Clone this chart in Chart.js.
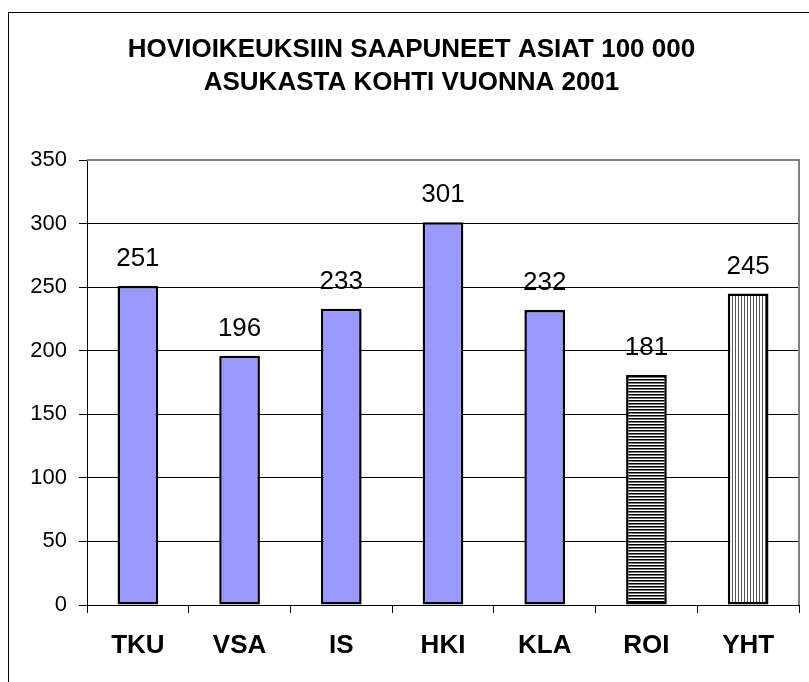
<!DOCTYPE html>
<html>
<head>
<meta charset="utf-8">
<script src="https://cdn.jsdelivr.net/npm/chart.js@4/dist/chart.umd.min.js"></script>
<style>
  html, body { margin: 0; padding: 0; background: #fff; overflow: hidden; }
  #frame {
    position: absolute; left: 8px; top: 12px;
    width: 900px; height: 800px;
    border-left: 1px solid #000; border-top: 1px solid #000;
  }
  #myChart { position: absolute; left: 9px; top: 13px; }
</style>
</head>
<body>
<div id="frame"></div>
<canvas id="myChart" width="804" height="669"></canvas>
<script>
// chart data
const categories = ['TKU', 'VSA', 'IS', 'HKI', 'KLA', 'ROI', 'YHT'];
const values = [251, 196, 233, 301, 232, 181, 245];
const yMin = 0;
const yMax = 350;
const yStep = 50;
const titleLines = ['HOVIOIKEUKSIIN SAAPUNEET ASIAT 100 000', 'ASUKASTA KOHTI VUONNA 2001'];

const FONT = "'Liberation Sans', Arial, sans-serif";

// striped fills for ROI (horizontal) and YHT (vertical)
function makeStripes(horizontal) {
  const tile = document.createElement('canvas');
  tile.width = 3;
  tile.height = 3;
  const t = tile.getContext('2d');
  t.fillStyle = '#fff';
  t.fillRect(0, 0, 3, 3);
  if (horizontal) {
    t.fillStyle = '#000';
    t.fillRect(0, 0, 3, 1);
    t.fillStyle = '#777';
    t.fillRect(0, 1, 3, 1);
  } else {
    t.fillStyle = '#555';
    t.fillRect(0, 0, 1, 3);
  }
  return t.createPattern(tile, 'repeat');
}

const barColor = '#9999FF';
const fills = categories.map((c) => {
  if (c === 'ROI') return makeStripes(true);
  if (c === 'YHT') return makeStripes(false);
  return barColor;
});

// value labels over the bars
const valueLabels = {
  id: 'valueLabels',
  afterDatasetsDraw(chart) {
    const ctx = chart.ctx;
    const meta = chart.getDatasetMeta(0);
    ctx.save();
    ctx.font = '26px ' + FONT;
    ctx.fillStyle = '#000';
    ctx.textAlign = 'center';
    ctx.textBaseline = 'alphabetic';
    meta.data.forEach((bar, i) => {
      ctx.fillText(String(chart.data.datasets[0].data[i]), bar.x, bar.y - 20);
    });
    ctx.restore();
  }
};

// grey plot area border on top and right
const plotBorder = {
  id: 'plotBorder',
  afterDraw(chart) {
    const a = chart.chartArea;
    const ctx = chart.ctx;
    ctx.save();
    ctx.strokeStyle = '#808080';
    ctx.lineWidth = 2;
    ctx.beginPath();
    ctx.moveTo(a.left, a.top);
    ctx.lineTo(a.right, a.top);
    ctx.lineTo(a.right, a.bottom);
    ctx.stroke();
    ctx.restore();
  }
};

const canvas = document.getElementById('myChart');
const ctx = canvas.getContext('2d');

const chart = new Chart(ctx, {
  type: 'bar',
  data: {
    labels: categories,
    datasets: [{
      data: values,
      backgroundColor: fills,
      borderColor: '#000',
      borderWidth: 2.5,
      borderSkipped: false,
      barPercentage: 0.4,
      categoryPercentage: 1
    }]
  },
  options: {
    responsive: false,
    animation: false,
    devicePixelRatio: 1,
    layout: { padding: { left: 15, right: 14, top: 0, bottom: 0 } },
    plugins: {
      legend: { display: false },
      tooltip: { enabled: false },
      title: {
        display: true,
        text: titleLines,
        color: '#000',
        font: { family: FONT, size: 26, weight: 'bold', lineHeight: 1.27 },
        padding: { top: 20, bottom: 61 }
      }
    },
    scales: {
      x: {
        grid: {
          display: true,
          drawOnChartArea: false,
          drawTicks: true,
          tickLength: 8,
          color: '#000',
          offset: true
        },
        border: { display: true, color: '#000', width: 1 },
        ticks: {
          color: '#000',
          padding: 17,
          font: { family: FONT, size: 26, weight: 'bold' }
        },
        afterFit(scale) { scale.height = 77; }
      },
      y: {
        min: yMin,
        max: yMax,
        grid: {
          color: (c) => (c.tick && c.tick.value === yMax ? '#808080' : '#000'),
          tickColor: '#000',
          tickLength: 8,
          lineWidth: 1
        },
        border: { display: true, color: '#000', width: 1 },
        ticks: {
          stepSize: yStep,
          color: '#000',
          padding: 12,
          font: { family: FONT, size: 22 }
        },
        afterFit(scale) { scale.width = 63; }
      }
    }
  },
  plugins: [valueLabels, plotBorder]
});
</script>
</body>
</html>
